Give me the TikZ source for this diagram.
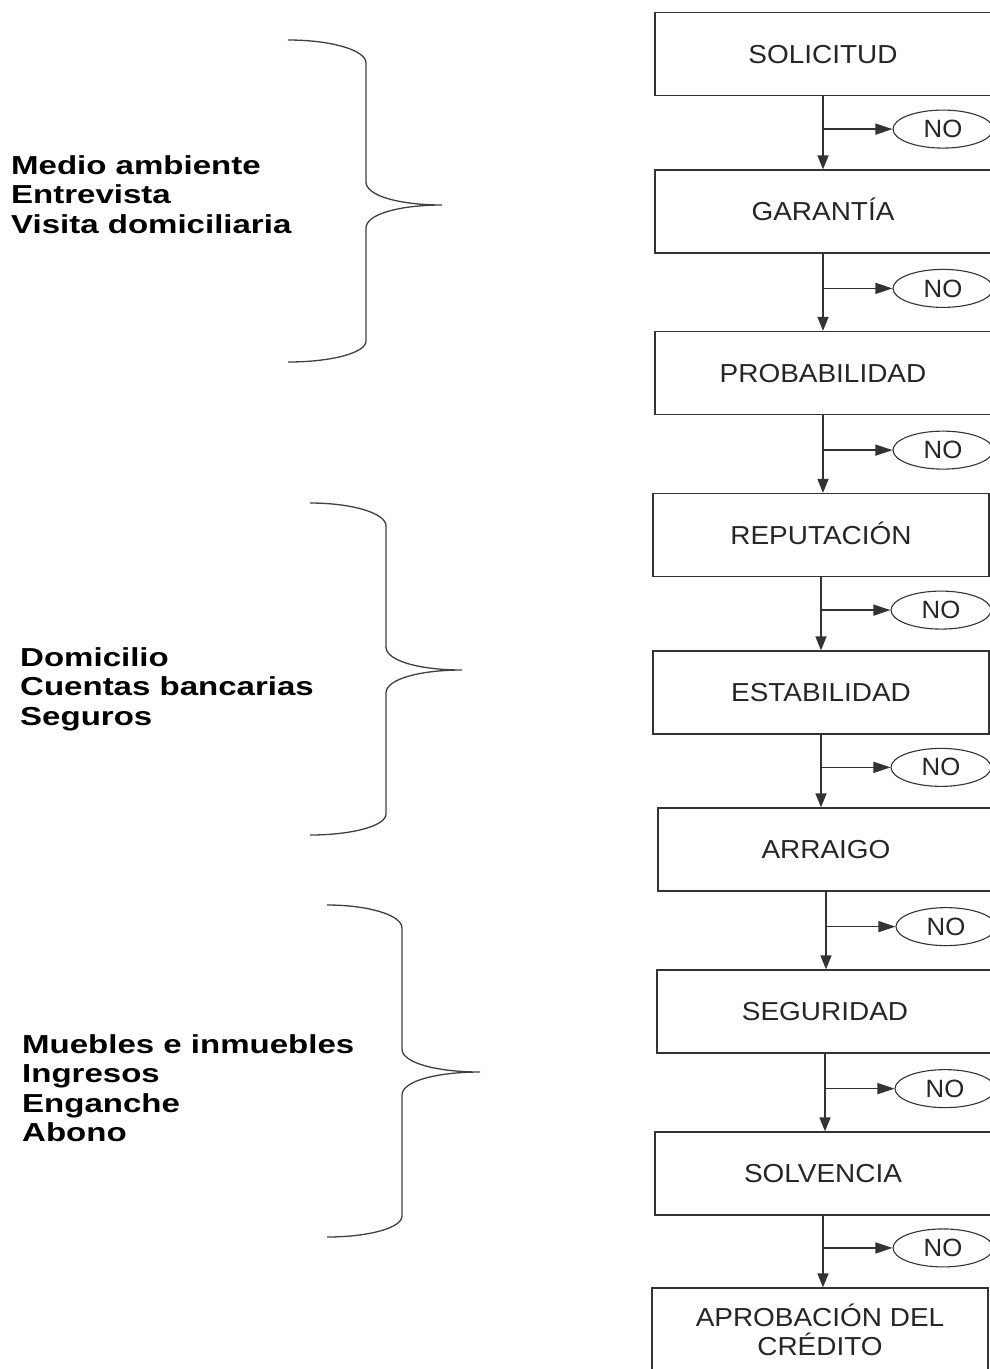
\documentclass[tikz,border=0pt]{standalone}
\usepackage{fontspec}
\setmainfont{Liberation Sans}
\usetikzlibrary{shapes.geometric,arrows.meta,calc}
% horizontally widened text
\newcommand{\estirar}[2]{\scalebox{#1}[1]{#2}}
% curly brace: #1 x of ends, #2 y top, #3 x of stem, #4 x of tip, #5 y of tip, #6 y bottom
\newcommand{\trazarllave}[6]{%
  \draw[llave] (#1,#2) .. controls ({#1+0.55*(#3-#1)},#2) and (#3,{#2+10}) .. (#3,{#2+23})
    -- (#3,{#5-23}) .. controls (#3,{#5-9}) and ({#3+0.45*(#4-#3)},#5) .. (#4,#5)
    .. controls ({#3+0.45*(#4-#3)},#5) and (#3,{#5+9}) .. (#3,{#5+23})
    -- (#3,{#6-21}) .. controls (#3,{#6-9}) and ({#1+0.55*(#3-#1)},#6) .. (#1,#6);}
\begin{document}
\begin{tikzpicture}[x=1pt,y=-1pt,
  caja/.style={draw=black!80, line width=1.3pt, rectangle, minimum width=336pt,
    minimum height=83pt, inner sep=0pt, align=center, text=black!85,
    font=\fontsize{26}{26}\selectfont, text height=18.6pt, text depth=0pt},
  salida/.style={draw=black!80, line width=1.1pt, ellipse, minimum width=100pt,
    minimum height=38pt, inner sep=0pt, text=black!85,
    font=\fontsize{25}{25}\selectfont},
  flecha/.style={draw=black!80, line width=1.6pt, -{Triangle[length=14pt,width=11pt]}},
  rama/.style={draw=black!80, line width=1.4pt, -{Triangle[length=17pt,width=11pt]}},
  llave/.style={draw=black!75, line width=1.3pt},
  lista/.style={anchor=north west, inner sep=0pt, align=left, text=black,
    font=\bfseries\fontsize{26}{29.5}\selectfont}]

\useasboundingbox (0,0) rectangle (990,1369);
\fill[white] (0,0) rectangle (990,1369);
\clip (0,0) rectangle (990,1369);

% flow of steps
\node[caja] (s1) at (823,54)   {\estirar{1.075}{SOLICITUD}};
\node[caja] (s2) at (823,211.5){\estirar{1.075}{GARANTÍA}};
\node[caja] (s3) at (823,373)  {\estirar{1.075}{PROBABILIDAD}};
\node[caja] (s4) at (821,535)  {\estirar{1.075}{REPUTACIÓN}};
\node[caja] (s5) at (821,692.5){\estirar{1.075}{ESTABILIDAD}};
\node[caja] (s6) at (826,849.5){\estirar{1.075}{ARRAIGO}};
\node[caja] (s7) at (825,1011.5){\estirar{1.075}{SEGURIDAD}};
\node[caja] (s8) at (823,1173.5){\estirar{1.075}{SOLVENCIA}};
\node[caja, text height=, text depth=, minimum height=84pt] (s9) at (820,1330)
  {\raisebox{3pt}{\estirar{1.075}{APROBACIÓN DEL}}\\\estirar{1.075}{CRÉDITO}};

% downward arrows with a "NO" exit on each
\foreach \i [evaluate=\i as \j using int(\i+1)] in {1,...,8} {
  \draw[flecha] (s\i.south) -- (s\i.south |- s\j.north);
  \coordinate (r\i) at ($(s\i.south)!0.45!(s\i.south |- s\j.north)$);
  \node[salida] (n\i) at ($(r\i)+(120,0)$) {\estirar{1.03}{NO}};
  \draw[rama] (r\i) -- (n\i.west);
}

% braces
\trazarllave{288}{40}{366}{442}{205}{362}
\trazarllave{310}{503}{386}{462}{670}{835}
\trazarllave{327}{905}{402}{480}{1072}{1237}

% grouped criteria
\node[lista] (g1) at (11,155)
  {\estirar{1.27}{Medio ambiente}\\\estirar{1.27}{Entrevista}\\\estirar{1.27}{Visita domiciliaria}};
\node[lista] (g2) at (20,647)
  {\estirar{1.27}{Domicilio}\\\estirar{1.27}{Cuentas bancarias}\\\estirar{1.27}{Seguros}};
\node[lista] (g3) at (22,1034)
  {\estirar{1.27}{Muebles e inmuebles}\\\estirar{1.27}{Ingresos}\\\estirar{1.27}{Enganche}\\\estirar{1.27}{Abono}};
\end{tikzpicture}
\end{document}
